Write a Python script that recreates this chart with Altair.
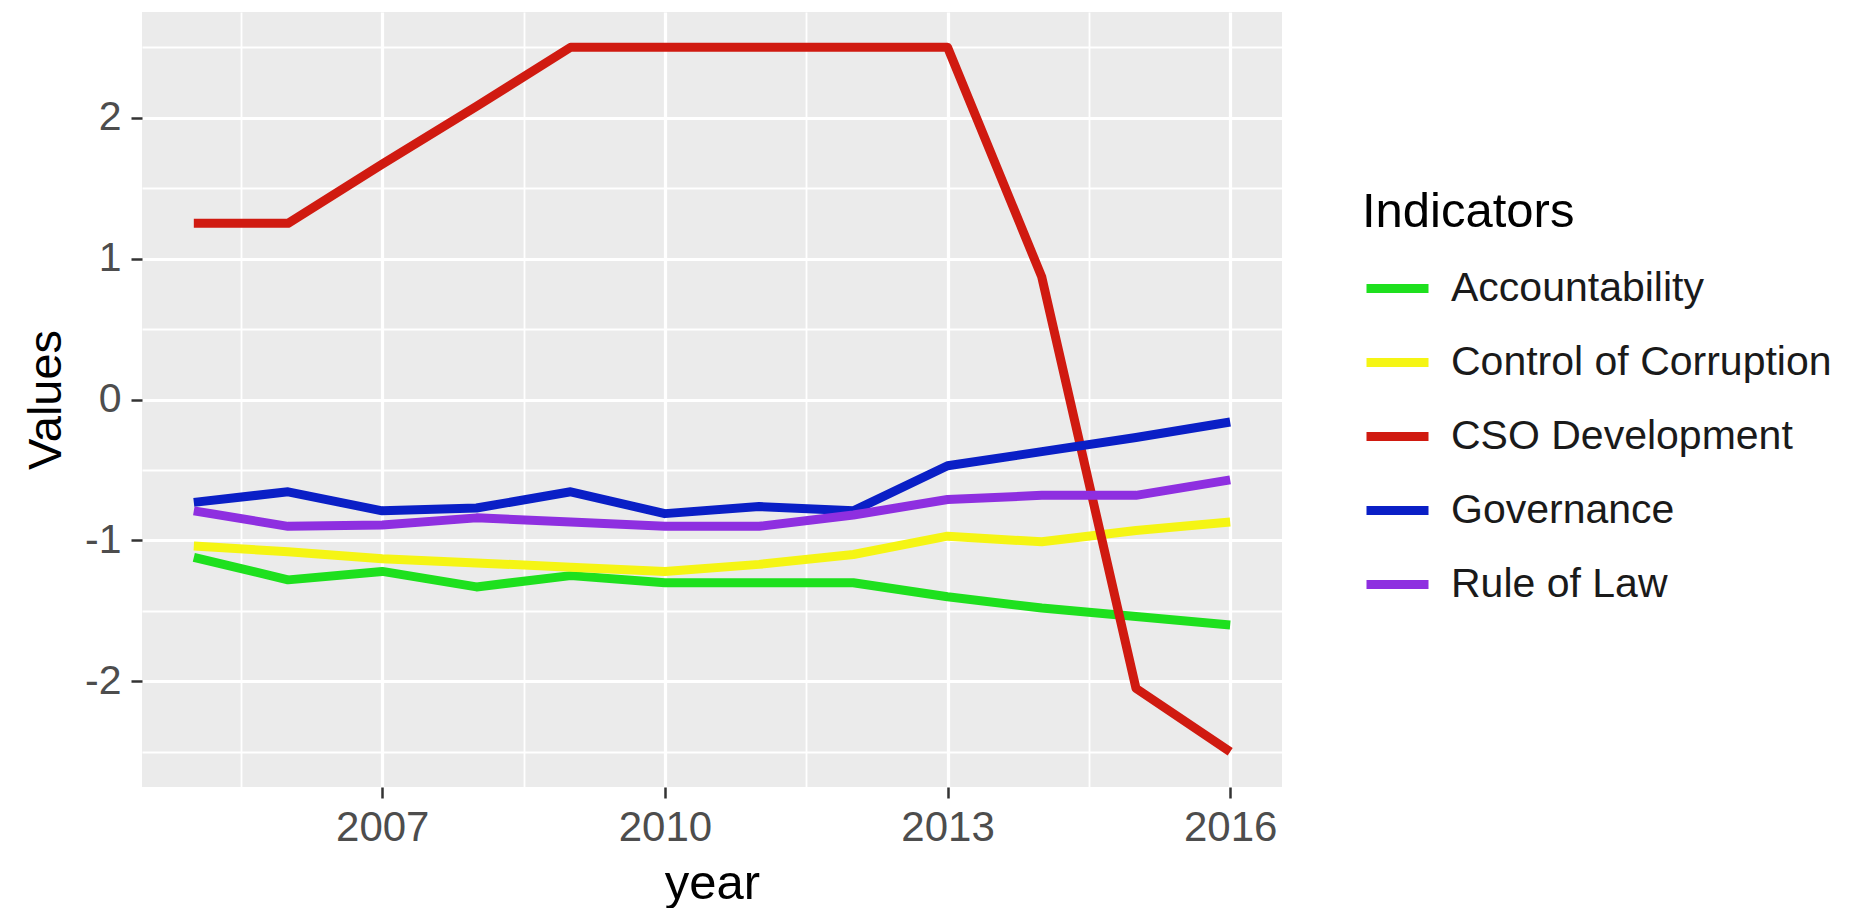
import altair as alt
import pandas as pd

years = [2005, 2006, 2007, 2008, 2009, 2010, 2011, 2012, 2013, 2014, 2015, 2016]
indicators = ["Accountability", "Control of Corruption", "CSO Development", "Governance", "Rule of Law"]
colors = ["#1EE01E", "#F5F514", "#D01A10", "#0A1FC6", "#8E2FE0"]

accountability = [-1.12, -1.28, -1.22, -1.33, -1.25, -1.30, -1.30, -1.30, -1.40, -1.48, -1.54, -1.60]
control_corruption = [-1.04, -1.08, -1.13, -1.16, -1.19, -1.22, -1.17, -1.10, -0.97, -1.01, -0.93, -0.87]
cso_development = [1.25, 1.25, 1.67, 2.08, 2.5, 2.5, 2.5, 2.5, 2.5, 0.87, -2.05, -2.5]
governance = [-0.73, -0.655, -0.79, -0.77, -0.655, -0.81, -0.76, -0.79, -0.47, -0.37, -0.27, -0.16]
rule_of_law = [-0.79, -0.90, -0.89, -0.84, -0.87, -0.90, -0.90, -0.82, -0.71, -0.68, -0.68, -0.57]

series = [accountability, control_corruption, cso_development, governance, rule_of_law]

x_breaks = [2005.5, 2007, 2008.5, 2010, 2011.5, 2013, 2014.5, 2016]
y_breaks = [-2.5, -2, -1.5, -1, -0.5, 0, 0.5, 1, 1.5, 2, 2.5]

rows = []
for name, vals in zip(indicators, series):
    for yr, v in zip(years, vals):
        rows.append({"year": yr, "Values": v, "Indicators": name, "order": indicators.index(name)})
df = pd.DataFrame(rows)

FONT = "Liberation Sans"

x_axis = alt.Axis(
    values=x_breaks,
    labelExpr="(datum.value - 2007) % 3 === 0 ? '' + datum.value : ''",
    title="year",
    titleFont=FONT, titleFontSize=49, titleFontWeight="normal", titleColor="#000000",
    labelFont=FONT, labelFontSize=42, labelColor="#4D4D4D",
    labelPadding=9, titlePadding=11,
    tickSize=11, tickWidth=2.5, tickColor="#333333",
    tickOpacity={"condition": {"test": "(datum.value - 2007) % 3 === 0", "value": 1}, "value": 0},
    gridColor="#FFFFFF",
    gridWidth={"condition": {"test": "(datum.value - 2007) % 3 === 0", "value": 3.2}, "value": 1.8},
    domain=False,
    labelFlush=False,
    labelOverlap=False,
)

y_axis = alt.Axis(
    values=y_breaks,
    labelExpr="datum.value % 1 === 0 ? '' + datum.value : ''",
    title="Values",
    titleFont=FONT, titleFontSize=47, titleFontWeight="normal", titleColor="#000000",
    labelFont=FONT, labelFontSize=41, labelColor="#4D4D4D",
    labelPadding=10, titlePadding=14,
    tickSize=11, tickWidth=2.5, tickColor="#333333",
    tickOpacity={"condition": {"test": "datum.value % 1 === 0", "value": 1}, "value": 0},
    gridColor="#FFFFFF",
    gridWidth={"condition": {"test": "datum.value % 1 === 0", "value": 3.2}, "value": 1.8},
    domain=False,
    labelFlush=False,
    labelOverlap=False,
)

legend = alt.Legend(
    title="Indicators",
    titleFont=FONT, titleFontSize=49, titleFontWeight="normal", titleColor="#000000",
    titlePadding=16, titleLimit=0,
    labelFont=FONT, labelFontSize=41, labelColor="#1A1A1A", labelLimit=0,
    symbolType="stroke", symbolStrokeWidth=9, symbolSize=3844,
    rowPadding=18, labelOffset=18,
    orient="none", legendX=1220, legendY=176, padding=0,
)

chart = (
    alt.Chart(df)
    .mark_line(strokeWidth=9, strokeCap="butt", strokeJoin="round")
    .encode(
        x=alt.X("year:Q", scale=alt.Scale(domain=[2004.45, 2016.55], nice=False, zero=False), axis=x_axis),
        y=alt.Y("Values:Q", scale=alt.Scale(domain=[-2.75, 2.75], nice=False, zero=False), axis=y_axis),
        color=alt.Color("Indicators:N", scale=alt.Scale(domain=indicators, range=colors), legend=legend),
        order=alt.Order("order:Q"),
    )
    .properties(
        width=1140,
        height=775,
        padding={"left": 14, "top": 4, "right": 0, "bottom": 0},
    )
    .configure(background="#FFFFFF")
    .configure_view(fill="#EBEBEB", stroke=None)
)

chart.save("out.html", embed_options={"renderer": "svg", "actions": False})
